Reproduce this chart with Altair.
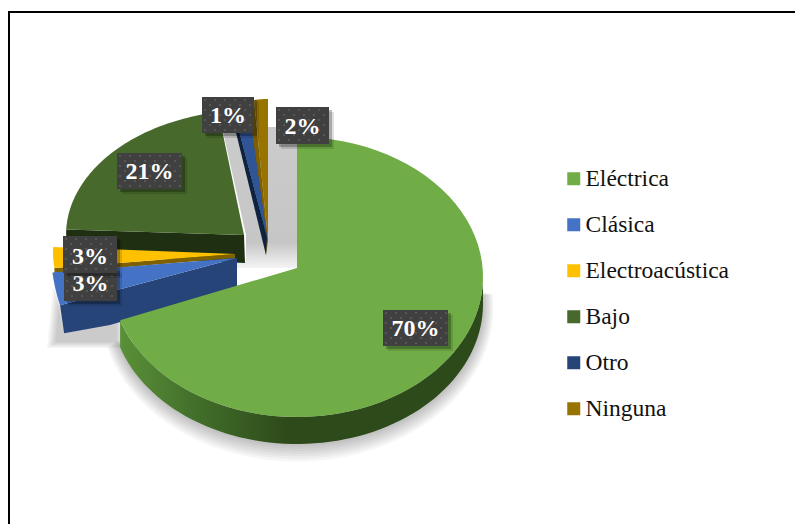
import altair as alt
import numpy as np
import pandas as pd

# ---- data ----
categories = ["Eléctrica", "Clásica", "Electroacústica", "Bajo", "Otro", "Ninguna"]
values = [70.0, 3.0, 2.7, 21.4, 1.0, 1.9]
pct_labels = ["70%", "3%", "3%", "21%", "1%", "2%"]
colors = ["#70ad47", "#4472c4", "#ffc000", "#47692b", "#264478", "#997300"]

# ---- layout of the exploded 3D pie ----
# apex x, apex y, ellipse centre x, centre y, rx, ry for each slice
geom = {
    "Eléctrica": (297, 268, 297, 277, 186, 140),
    "Clásica": (237, 258, 237, 250, 186, 179),
    "Electroacústica": (235, 254, 239, 252.4, 186, 124.6),
    "Bajo": (244, 235, 252, 235, 186, 125),
    "Otro": (267, 237, 278, 237, 260, 140),
    "Ninguna": (268, 240, 268, 240, 117, 141),
}
label_boxes = {  # x1, y1, x2, y2 of the label tags
    0: (383, 310, 448, 346),
    1: (64, 268, 117, 301),
    2: (63, 236, 117, 273),
    3: (117, 153, 182, 189),
    4: (202, 97, 254, 133),
    5: (276, 107, 329, 144),
}
label_dy = {0: 1, 1: -1, 2: 2, 3: 1, 4: 1, 5: 1}
FONT = "Liberation Serif"

W, H = 787, 516
xs = alt.Scale(domain=[8, 8 + W], nice=False, zero=False)
ys = alt.Scale(domain=[8 + H, 8], nice=False, zero=False)
X = alt.X("x:Q", scale=xs, axis=None)
Y = alt.Y("y:Q", scale=ys, axis=None)

cum = np.concatenate([[0], np.cumsum(values)]) / sum(values) * 360.0
spans = {c: (cum[i], cum[i + 1]) for i, c in enumerate(categories)}


def arc(c, a0=None, a1=None, dy=0.0, n=70):
    ax, ay, cx, cy, rx, ry = geom[c]
    s0, s1 = spans[c]
    a0 = s0 if a0 is None else a0
    a1 = s1 if a1 is None else a1
    t = np.radians(np.linspace(a0, a1, n))
    return list(zip(cx + rx * np.sin(t), cy - ry * np.cos(t) + dy))


def frame(pts):
    pts = list(pts) + [pts[0]]
    return pd.DataFrame({"x": [p[0] for p in pts], "y": [p[1] for p in pts], "i": range(len(pts))})


def poly(pts, fill, opacity=1.0):
    return alt.Chart(frame(pts)).mark_line(fill=fill, strokeWidth=0, opacity=opacity).encode(
        x=X, y=Y, order=alt.Order("i:Q")
    )


def grad(stops, horizontal=True):
    return alt.Gradient(
        gradient="linear",
        x1=0, y1=0, x2=1 if horizontal else 0, y2=0 if horizontal else 1,
        stops=[alt.GradientStop(offset=o, color=c) for o, c in stops],
    )


def top(c):
    ax, ay, *_ = geom[c]
    df = frame([(ax, ay)] + arc(c))
    df["cat"] = c
    return alt.Chart(df).mark_line(filled=True, strokeWidth=0).encode(
        x=X, y=Y, order=alt.Order("i:Q"),
        color=alt.Color(
            "cat:N",
            scale=alt.Scale(domain=categories, range=colors),
            legend=alt.Legend(
                title=None, orient="none", legendX=554, legendY=159,
                symbolType="square", symbolSize=169, symbolStrokeWidth=0, symbolOpacity=1,
                labelFont=FONT, labelFontSize=23.5, labelColor="#111111",
                rowPadding=21, labelOffset=0, labelLimit=300,
            ),
        ),
    )


layers = []

# soft floor shadow below the large slice
for k in range(7, 0, -1):
    cy, rx, ry = 304 + k * 0.5, 186 + k * 1.5, 140 + k * 2.0
    t = np.radians(np.linspace(85, 255, 90))
    pts = list(zip(297 + rx * np.sin(t), cy - ry * np.cos(t)))
    layers.append(poly(pts, "#000000", 0.035))

# grey shadow seen through the gap between slices
layers.append(poly([(222, 127), (297, 127), (297, 268), (237, 268), (237, 262), (246, 262), (246, 235)],
                   grad([(0, "#cbcbcb"), (0.82, "#c6c6c6"), (1, "#f4f4f4")], horizontal=False)))
# soft shadow under the blue slice
shadow_pts = np.array([(47, 348), (53, 285), (64, 333), (124, 318), (124, 348)], dtype=float)
shadow_c = shadow_pts.mean(axis=0) + np.array([6, -6])
for f in (1.0, 0.96, 0.92, 0.88, 0.84, 0.8):
    layers.append(poly([tuple(p) for p in shadow_c + (shadow_pts - shadow_c) * f], "#000000", 0.035))

# Ninguna
layers.append(poly([(254, 100), (268, 240), (266, 255), (249, 133)], "#7f6000"))
layers.append(top("Ninguna"))
# Otro
layers.append(poly([(231, 100), (267, 237), (266, 255), (228, 100)], "#0f2240"))
layers.append(top("Otro"))
layers.append(poly([(267, 237)] + arc("Otro"), "#2f5597"))
# Bajo
b_left = arc("Bajo")[0]
layers.append(poly([b_left, (244, 235), (245, 263), (b_left[0], 255)], "#1f2f12"))
layers.append(top("Bajo"))
# Electroacústica
e_low = arc("Electroacústica")[0]
layers.append(poly([(235, 254), e_low, (e_low[0], e_low[1] + 5), (235, 258)], "#7f6000"))
layers.append(top("Electroacústica"))
# Clásica
c_left = arc("Clásica")[0]
layers.append(poly([(237, 258), c_left, (c_left[0] + 4, c_left[1] + 28), (110, 325), (237, 288)], "#264478"))
layers.append(top("Clásica"))
# Eléctrica: side wall first, then top
side = arc("Eléctrica", 90, spans["Eléctrica"][1])
side_low = arc("Eléctrica", 90, spans["Eléctrica"][1], dy=27)
layers.append(poly(side + side_low[::-1],
                   grad([(0, "#5a9038"), (0.2, "#43702b"), (0.46, "#2e4a1a"), (1, "#2d4a1a")])))
layers.append(top("Eléctrica"))

# percentage tags
for idx in [0, 3, 1, 2, 4, 5]:
    x1, y1, x2, y2 = label_boxes[idx]
    for off, op in ((5, 0.12), (3, 0.25)):
        layers.append(
            alt.Chart(pd.DataFrame({"x": [x1 + off], "x2": [x2 + off], "y": [y1 + off], "y2": [y2 + off]}))
            .mark_rect(color="#000000", opacity=op)
            .encode(x=X, x2="x2:Q", y=Y, y2="y2:Q")
        )
    layers.append(
        alt.Chart(pd.DataFrame({"x": [x1], "x2": [x2], "y": [y1], "y2": [y2]}))
        .mark_rect(color="#404040")
        .encode(x=X, x2="x2:Q", y=Y, y2="y2:Q")
    )
    dots = [
        (x, y)
        for r, y in enumerate(np.arange(y1 + 3, y2 - 1, 5.0))
        for x in np.arange(x1 + 3 + (r % 2) * 5, x2 - 1, 10.0)
    ]
    layers.append(
        alt.Chart(pd.DataFrame(dots, columns=["x", "y"]))
        .mark_point(filled=True, color="#5e5e5e", size=4, opacity=1)
        .encode(x=X, y=Y)
    )
    layers.append(
        alt.Chart(pd.DataFrame({"x": [(x1 + x2) / 2], "y": [(y1 + y2) / 2 + label_dy[idx]], "t": [pct_labels[idx]]}))
        .mark_text(font=FONT, fontWeight="bold", fontSize=24, color="white", baseline="middle", align="center")
        .encode(x=X, y=Y, text="t:N")
    )

# page frame
layers.append(
    alt.Chart(pd.DataFrame({"x": [8], "x2": [8 + W], "y": [12]}))
    .mark_rule(color="#000000", strokeWidth=2)
    .encode(x=X, x2="x2:Q", y=Y)
)
layers.append(
    alt.Chart(pd.DataFrame({"x": [9], "y": [11], "y2": [8 + H]}))
    .mark_rule(color="#000000", strokeWidth=2)
    .encode(x=X, y=Y, y2="y2:Q")
)

chart = (
    alt.layer(*layers)
    .properties(width=W, height=H, padding=0, autosize=alt.AutoSizeParams(type="none"), background="white")
    .configure_view(stroke=None)
)
chart.save("out.html", embed_options={"renderer": "svg", "actions": False})
